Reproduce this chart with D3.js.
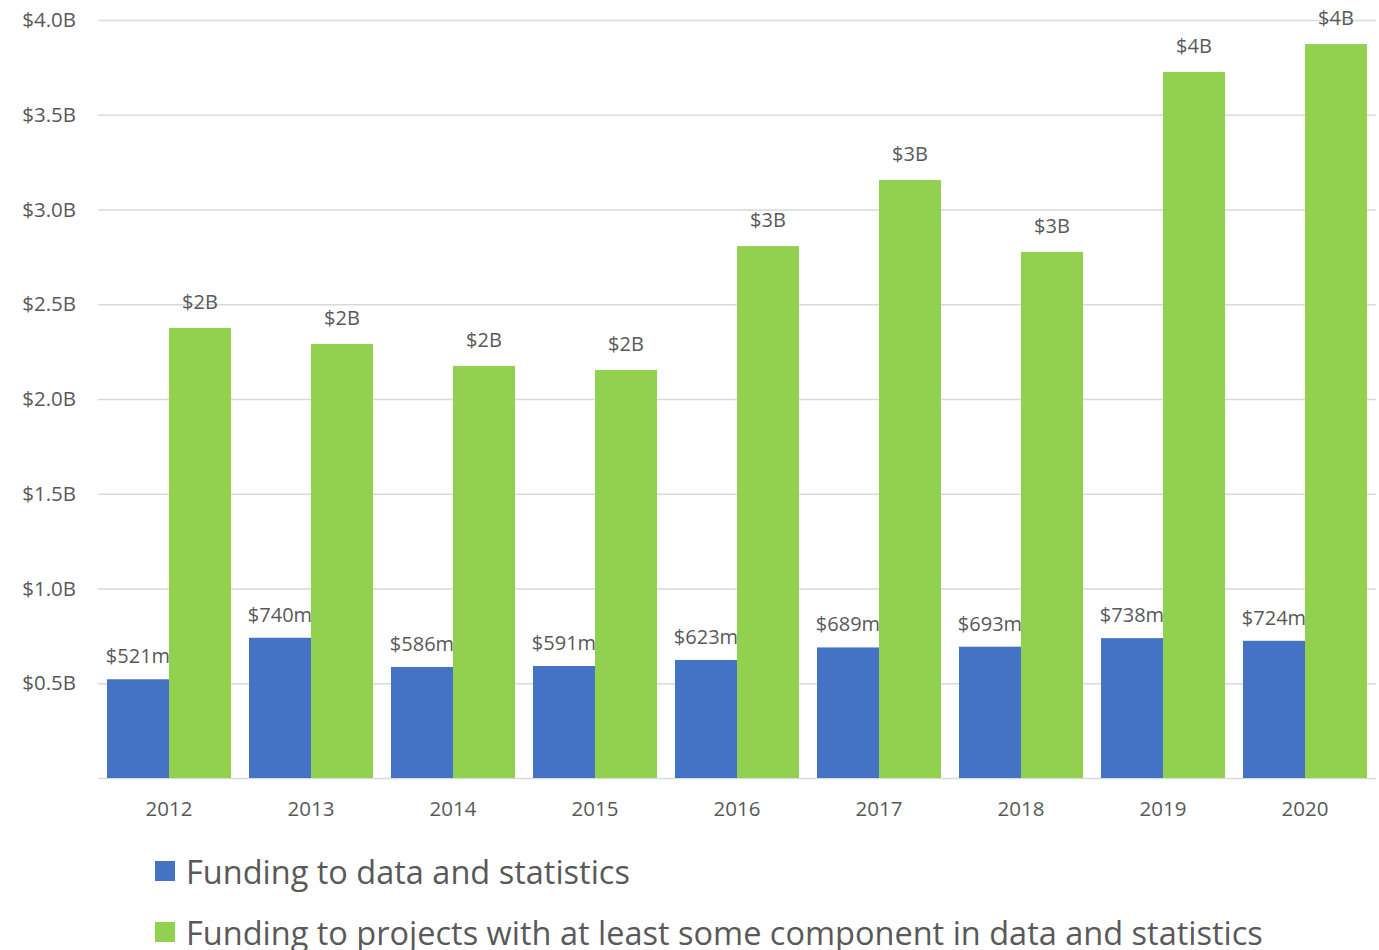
<!DOCTYPE html>
<html>
  <head>
    <meta charset="UTF-8">
    <title>Funding to data and statistics</title>
    <style type="text/css">
      body { margin: 0; background: #fff; }
      text { font-family: 'Open Sans', 'Noto Sans', sans-serif; fill: #595959; }
      .grid line { stroke: #d9d9d9; stroke-width: 1.5; }
    </style>
  </head>
  <body>
    <script src="https://d3js.org/d3.v7.min.js"></script>
    <script>

      // Data (values in billions)
      var years = ["2012", "2013", "2014", "2015", "2016", "2017", "2018", "2019", "2020"];
      var dataFunding = [0.521, 0.740, 0.586, 0.591, 0.623, 0.689, 0.693, 0.738, 0.724];
      var projectFunding = [2.375, 2.29, 2.174, 2.153, 2.807, 3.156, 2.776, 3.726, 3.873];
      var dataLabels = ["$521m", "$740m", "$586m", "$591m", "$623m", "$689m", "$693m", "$738m", "$724m"];
      var projectLabels = ["$2B", "$2B", "$2B", "$2B", "$3B", "$3B", "$3B", "$4B", "$4B"];
      var yTicks = [0.5, 1.0, 1.5, 2.0, 2.5, 3.0, 3.5, 4.0];
      var seriesNames = ["Funding to data and statistics",
                         "Funding to projects with at least some component in data and statistics"];
      var colors = ["#4472c4", "#92d050"];

      // Build svg
      var svgWidth = 1379,
          svgHeight = 950,
          margin = {top: 20, right: 3, bottom: 172, left: 98},
          width = svgWidth - margin.left - margin.right,
          height = svgHeight - margin.top - margin.bottom;

      var svg = d3.select("body")
                  .append("svg")
                  .attr("width", svgWidth)
                  .attr("height", svgHeight);

      var canvas = svg.append("g")
                      .attr("transform", "translate(" + margin.left + "," + margin.top + ")");

      // Scales
      var xScale = d3.scaleBand()
                     .domain(years)
                     .range([0, width])
                     .paddingInner(18 / 142)
                     .paddingOuter(9 / 142);

      var subScale = d3.scaleBand()
                       .domain([0, 1])
                       .range([0, xScale.bandwidth()]);

      var yScale = d3.scaleLinear()
                     .domain([0, 4])
                     .range([height, 0]);

      // Gridlines
      canvas.append("g")
            .attr("class", "grid")
            .call(d3.axisLeft(yScale).tickValues([0].concat(yTicks)).tickSize(-width).tickFormat(""))
            .call(g => g.select(".domain").remove());

      // Y axis labels
      canvas.append("g")
            .call(d3.axisLeft(yScale).tickValues(yTicks).tickSize(0).tickPadding(22)
                    .tickFormat(d => "$" + d.toFixed(1) + "B"))
            .call(g => g.select(".domain").remove())
            .selectAll("text")
            .style("font-size", "20.5px")
            .attr("fill", "#595959");

      // X axis labels
      canvas.append("g")
            .attr("transform", "translate(0," + height + ")")
            .call(d3.axisBottom(xScale).tickSize(0).tickPadding(23))
            .call(g => g.select(".domain").remove())
            .selectAll("text")
            .style("font-size", "20.5px")
            .attr("fill", "#595959");

      var series = [dataFunding, projectFunding];
      var labels = [dataLabels, projectLabels];
      var labelGap = [16, 19];

      series.forEach(function(vals, s) {
        var g = canvas.append("g");

        g.selectAll("rect")
         .data(vals)
         .enter()
         .append("rect")
         .attr("x", (d, i) => xScale(years[i]) + subScale(s))
         .attr("y", d => yScale(d))
         .attr("width", subScale.bandwidth())
         .attr("height", d => height - yScale(d))
         .attr("fill", colors[s]);

        g.selectAll("text")
         .data(vals)
         .enter()
         .append("text")
         .attr("x", (d, i) => xScale(years[i]) + subScale(s) + subScale.bandwidth() / 2)
         .attr("y", d => yScale(d) - labelGap[s])
         .attr("text-anchor", "middle")
         .style("font-size", "20px")
         .text((d, i) => labels[s][i]);
      });

      // Legend
      var legend = svg.append("g")
                      .attr("transform", "translate(155,861)");

      seriesNames.forEach(function(name, i) {
        var row = legend.append("g")
                        .attr("transform", "translate(0," + (i * 61) + ")");
        row.append("rect")
           .attr("width", 20)
           .attr("height", 20)
           .attr("fill", colors[i]);
        row.append("text")
           .attr("x", 31)
           .attr("y", 23)
           .style("font-size", "32.5px")
           .text(name);
      });

    </script>
  </body>
</html>
